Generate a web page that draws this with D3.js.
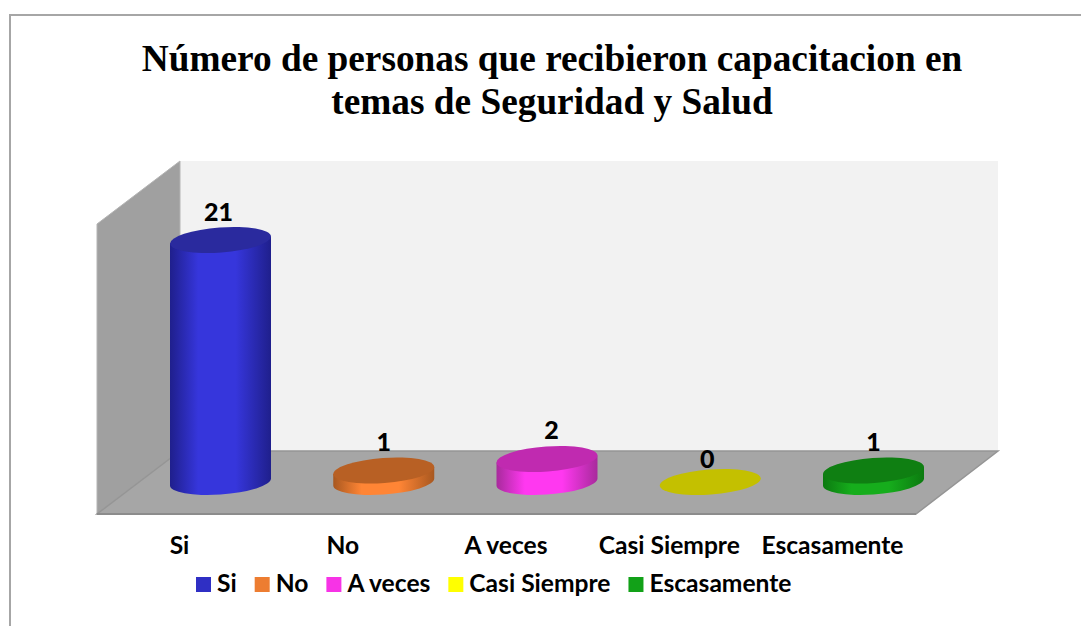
<!DOCTYPE html>
<html><head><meta charset="utf-8">
<script src="https://cdn.jsdelivr.net/npm/d3@7"></script>
<style>html,body{margin:0;padding:0;background:#fff;overflow:hidden}svg{display:block}</style>
</head><body><svg id="c" width="1081" height="626"></svg>
<script>
const categories = ["Si","No","A veces","Casi Siempre","Escasamente"];
const values = [21,1,2,0,1];
const titleLines = ["Número de personas que recibieron capacitacion en","temas de Seguridad y Salud"];
const legendColors = ["#2f2fc4","#ed7d31","#f733e6","#ffff00","#12a118"];
const sideBright = ["#3636dc","#ff8535","#ff38f0","#ffff00","#16ad1c"];
const sideDark = ["#1f1f8c","#a85820","#a82a9c","#999900","#0c7a10"];
const topColors = ["#2a2a9e","#b86024","#c02ab0","#c4c000","#0f7f12"];

const svg = d3.select("#c");
const x = d3.scalePoint().domain(categories).range([220.5,873.5]);
const y = d3.scaleLinear().domain([0,21]).range([482,240]);
const rx=50.6, ry=12.5, rot=-4.2, ex=50.5, ey=3.5, depthX=41;
const labelDx = [-2,0,4.5,-3,0];
const font = "Lato, sans-serif";

// frame
svg.append("path").attr("d","M10,626V15H1081").attr("fill","none").attr("stroke","#a6a6a6").attr("stroke-width",2);

// walls
const defs = svg.append("defs");
svg.append("polygon").attr("points","180,161 998,161 998,451 180,451").attr("fill","#f2f2f2");
svg.append("polygon").attr("points","97,224 180,161 180,451 97,514").attr("fill","#a0a0a0").attr("stroke","#b4b4b4");
svg.append("polygon").attr("points","180,451 998,451 916,514 97,514").attr("fill","#a6a6a6").attr("stroke","#959595").attr("stroke-width",1.5);
svg.append("line").attr("x1",97).attr("x2",916).attr("y1",514).attr("y2",514).attr("stroke","#8c8c8c").attr("stroke-width",2);

// cylinders
categories.forEach((c,i)=>{
  const g = defs.append("linearGradient").attr("id","g"+i);
  [[0,sideDark[i]],[0.28,sideBright[i]],[0.65,sideBright[i]],[1,sideDark[i]]].forEach(s=>
    g.append("stop").attr("offset",s[0]).attr("stop-color",s[1]));
});
const marks = svg.selectAll("g.bar").data(categories.map((c,i)=>({c,v:values[i],i}))).join("g").attr("class","bar");
marks.filter(d=>d.v>0).append("path")
  .attr("d",d=>{
    const cx=x(d.c), t=y(d.v), b=y(0);
    return `M${cx-ex},${t+ey}L${cx-ex},${b+ey}A${rx},${ry} ${rot} 0 0 ${cx+ex},${b-ey}L${cx+ex},${t-ey}Z`;
  })
  .attr("fill",d=>`url(#g${d.i})`);
marks.append("ellipse")
  .attr("rx",rx).attr("ry",ry)
  .attr("transform",d=>`translate(${x(d.c)},${y(d.v)}) rotate(${rot})`)
  .attr("fill",d=>topColors[d.i]);

// value labels
marks.append("text").attr("x",d=>x(d.c)+labelDx[d.i]).attr("y",d=>y(d.v)-(d.v>0?19.5:14.5))
  .attr("text-anchor","middle").attr("font-family",font).attr("font-weight",900)
  .attr("font-size",25).attr("fill","#000").text(d=>d.v);

// category labels
svg.selectAll("text.cat").data(categories).join("text").attr("class","cat")
  .attr("x",d=>x(d)-depthX).attr("y",554).attr("text-anchor","middle")
  .attr("font-family",font).attr("font-weight",700).attr("font-size",24.6).attr("fill","#000").text(d=>d);

// title
svg.selectAll("text.title").data(titleLines).join("text").attr("class","title")
  .attr("x",552).attr("y",(d,i)=>71+i*43).attr("text-anchor","middle")
  .attr("font-family","'Liberation Serif', serif").attr("font-weight",700).attr("font-size",37.3).attr("fill","#000").text(d=>d);

// legend
let lx=196;
const lg = svg.append("g");
categories.forEach((c,i)=>{
  lg.append("rect").attr("x",lx).attr("y",577).attr("width",15).attr("height",15).attr("fill",legendColors[i]);
  const t = lg.append("text").attr("x",lx+21).attr("y",592).attr("font-family",font)
    .attr("font-weight",700).attr("font-size",24.6).attr("fill","#000").text(c);
  lx += 21 + t.node().getComputedTextLength() + 18;
});
</script></body></html>
